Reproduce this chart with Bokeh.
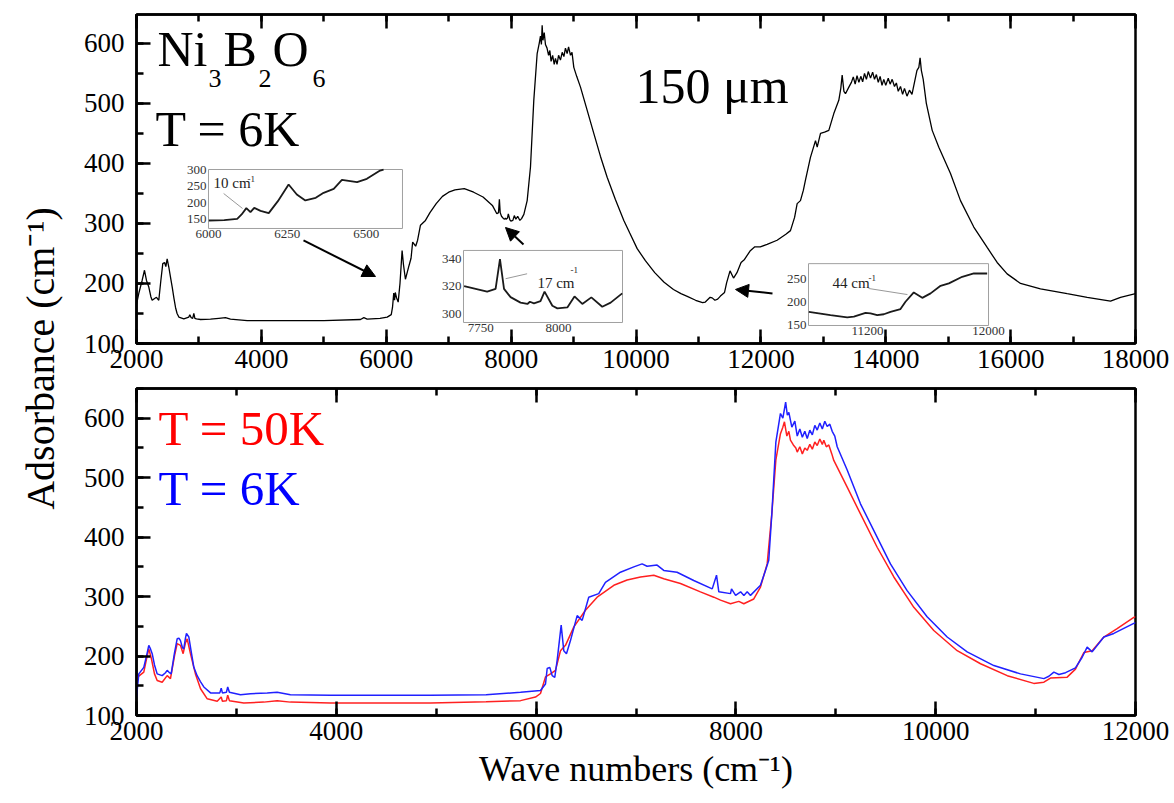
import math
from bokeh.plotting import figure
from bokeh.layouts import row, column
from bokeh.models import Range1d, SingleIntervalTicker, LinearAxis, Arrow, NormalHead
from bokeh.embed import file_html
from bokeh.resources import INLINE
from bokeh.core.properties import value

FONT = "Liberation Serif"

# ---------------- data: top panel, T = 6K, 150 um ----------------
top_x = [2000, 2040, 2090, 2128, 2160, 2197, 2230, 2251, 2290, 2320, 2357, 2390, 2421, 2450, 2470, 2491, 2518,
         2545, 2572, 2600, 2625, 2650, 2678, 2758, 2838, 2854, 2876, 2900, 2918, 2935, 2960, 3025, 3185, 3318,
         3425, 3505, 3773, 4574, 5000, 5588, 5641, 5695, 5900, 6015, 6080, 6100, 6120, 6133, 6145, 6165, 6191,
         6220, 6254, 6275, 6307, 6335, 6365, 6397, 6423, 6471, 6502, 6548, 6628, 6700, 6800, 6900, 7000, 7100,
         7250, 7400, 7550, 7700, 7771, 7798, 7812, 7825, 7846, 7878, 7900, 7908, 7921, 7942, 7955, 7980, 7996,
         8028, 8051, 8076, 8105, 8140, 8167, 8204, 8257, 8310, 8363, 8417, 8450, 8470, 8485, 8497, 8510, 8530,
         8550, 8575, 8600, 8620, 8640, 8665, 8690, 8710, 8735, 8760, 8790, 8818, 8845, 8870, 8897, 8920, 8951,
         8975, 9004, 9050, 9111, 9200, 9324, 9430, 9538, 9670, 9805, 9900, 10019, 10150, 10300, 10450, 10600,
         10720, 10812, 10955, 11066, 11110, 11187, 11220, 11264, 11308, 11352, 11418, 11451, 11506, 11562, 11617,
         11683, 11738, 11826, 11903, 11991, 12100, 12260, 12400, 12474, 12540, 12581, 12634, 12680, 12714, 12794,
         12875, 12902, 12955, 13020, 13088, 13168, 13248, 13280, 13302, 13330, 13355, 13409, 13450, 13480, 13510,
         13540, 13570, 13600, 13630, 13660, 13690, 13720, 13756, 13790, 13820, 13850, 13880, 13910, 13940, 13969,
         14000, 14040, 14070, 14103, 14140, 14170, 14200, 14236, 14270, 14300, 14340, 14380, 14420, 14460, 14500,
         14530, 14550, 14570, 14600, 14650, 14744, 14850, 15037, 15197, 15410, 15624, 15784, 15944, 16158, 16478,
         16905, 17226, 17600, 17760, 18000]
top_y = [165, 185, 205, 222, 205, 194, 178, 172, 175, 177, 172, 205, 233, 235, 228, 241, 227,
         210, 194, 175, 160, 150, 144, 141, 144, 148, 143, 142, 150, 142, 141, 140, 140.5, 142,
         143, 140.5, 138, 138, 138, 140, 143, 140.5, 142, 144, 148, 160, 184, 172, 185, 176, 169,
         200, 255, 232, 207, 218, 230, 242, 269, 262, 272, 297, 305, 318, 333, 345, 352, 356,
         358, 352, 344, 330, 316, 318, 340, 318, 312, 308, 307, 309, 307, 309, 316, 306, 304,
         305, 313, 307, 312, 305, 308, 315, 338, 394, 505, 583, 600, 612, 598, 630, 605, 618,
         598, 592, 580, 588, 570, 580, 565, 575, 565, 580, 572, 585, 578, 592, 583, 594, 580,
         585, 560, 545, 527, 495, 450, 412, 377, 340, 305, 284, 258, 238, 218, 202, 190,
         183, 179, 172, 168, 169, 177, 176, 172, 174, 179, 185, 201, 221, 209, 218,
         235, 240, 254, 261, 261, 265, 272, 282, 288, 310, 333, 338, 355, 372, 410,
         438, 427, 450, 452, 455, 483, 505, 525, 547, 520, 516, 527, 535, 544, 532,
         546, 535, 545, 536, 550, 540, 553, 542, 552, 540, 548, 535, 545, 530, 540,
         530, 542, 532, 540, 528, 534, 520, 528, 515, 525, 512, 522, 515, 535, 555,
         560, 576, 555, 540, 500, 455, 427, 383, 338, 294, 260, 235, 216, 200, 191,
         183, 177, 170.5, 177, 183]

# ---------------- data: bottom panel ----------------
b6_x = [2000, 2023, 2073, 2100, 2123, 2140, 2157, 2180, 2207, 2257, 2290, 2307, 2330, 2347, 2380, 2407, 2425,
        2440, 2460, 2473, 2490, 2500, 2524, 2550, 2574, 2607, 2640, 2674, 2741, 2834, 2848, 2860, 2900, 2913,
        2930, 3041, 3141, 3308, 3408, 3541, 3942, 4943, 5500, 5844, 6044, 6094, 6111, 6137, 6161, 6187, 6211,
        6251, 6277, 6304, 6344, 6411, 6461, 6527, 6627, 6694, 6844, 6978, 7061, 7111, 7211, 7278, 7411, 7578,
        7763, 7806, 7829, 7946, 7956, 7997, 8047, 8080, 8113, 8146, 8246, 8296, 8329, 8360, 8400, 8446, 8470,
        8498, 8515, 8530, 8560, 8590, 8614, 8640, 8665, 8690, 8714, 8740, 8765, 8790, 8814, 8840, 8865, 8890,
        8914, 8940, 8964, 8990, 9014, 9114, 9247, 9381, 9547, 9714, 9914, 10115, 10315, 10582, 10849, 11083,
        11133, 11183, 11233, 11300, 11399, 11466, 11516, 11566, 11683, 11783, 11983, 12000]
b6_y = [131, 170, 181, 200, 218, 212, 204, 185, 170, 167, 172, 176, 172, 170, 205, 229, 230,
        226, 214, 212, 230, 238, 232, 205, 181, 167, 157, 148, 138, 138, 146, 138, 139, 148,
        139, 135, 136.5, 138, 139, 135, 134, 134, 135, 139, 142, 153, 179, 181, 167, 164, 193,
        252, 209, 204, 226, 268, 260, 299, 305, 324, 341, 350, 355, 351, 353, 344, 341, 327,
        313, 336, 308, 305, 313, 302, 308, 302, 308, 302, 319, 344, 361, 440, 560, 608, 600,
        627, 605, 610, 585, 595, 570, 582, 568, 578, 566, 580, 572, 588, 580, 592, 582, 595,
        586, 590, 578, 570, 552, 513, 456, 411, 355, 310, 266, 232, 207, 184, 170, 162,
        166, 173, 169, 172, 180, 198, 215, 207, 232, 238, 255, 256]

b50_x = [2000, 2007, 2073, 2100, 2123, 2150, 2180, 2207, 2257, 2307, 2340, 2380, 2407, 2440, 2467, 2490, 2507,
         2540, 2590, 2641, 2708, 2808, 2848, 2860, 2900, 2913, 2930, 3074, 3274, 3408, 3541, 3942, 4943, 5500,
         5844, 5994, 6044, 6094, 6144, 6194, 6244, 6294, 6378, 6494, 6611, 6778, 6911, 7045, 7178, 7278, 7445,
         7645, 7779, 7846, 7946, 8029, 8079, 8179, 8246, 8313, 8360, 8400, 8446, 8470, 8486, 8510, 8530, 8546,
         8575, 8600, 8614, 8640, 8665, 8690, 8714, 8740, 8765, 8790, 8814, 8840, 8865, 8880, 8905, 8930, 8960,
         8980, 9114, 9247, 9414, 9581, 9781, 9981, 10215, 10449, 10716, 10982, 11083, 11149, 11316, 11399, 11483,
         11566, 11683, 11816, 11983, 12000]
b50_y = [150, 164, 173, 195, 212, 195, 170, 159, 156, 167, 162, 200, 221, 218, 204, 222, 229,
         204, 170, 145, 128, 124, 131, 124, 125, 134, 125, 121, 122.5, 125, 122.5, 121, 121, 123,
         125, 131, 137, 165, 170, 176, 209, 218, 249, 277, 299, 319, 328, 333, 336, 330, 322,
         308, 299, 294, 288, 292, 288, 296, 316, 355, 440, 530, 574, 585, 594, 570, 578, 563,
         555, 550, 543, 552, 540, 550, 546, 556, 548, 560, 554, 565, 556, 563, 552, 555, 540,
         529, 484, 439, 383, 333, 282, 243, 209, 187, 167, 154, 156, 163, 164.5, 178, 206,
         209, 232, 246, 265, 266]

# ---------------- data: insets ----------------
ins1_x = [6001, 6050, 6091, 6105, 6120, 6133, 6145, 6165, 6191, 6220, 6254, 6280, 6307, 6340, 6365, 6397, 6423,
          6471, 6502, 6544, 6555]
ins1_y = [147, 148, 152, 165, 184, 172, 185, 176, 169, 205, 255, 225, 207, 215, 230, 242, 269,
          262, 272, 297, 300]
ins1_xrange = [6000, 6615]
ins1_yrange = [123, 300]
ins1_xticks = [6000, 6250, 6500]
ins1_yticks = [150, 200, 250, 300]

ins2_x = [7697, 7771, 7798, 7812, 7825, 7846, 7878, 7900, 7908, 7921, 7942, 7955, 7980, 7996, 8028, 8051,
          8076, 8105, 8140, 8167, 8204]
ins2_y = [320, 316, 318, 339.6, 318, 312, 308, 307, 308.6, 307.4, 309, 316, 305.7, 303.8, 304.5, 312.5,
          307, 311.8, 305, 308, 314.7]
ins2_xrange = [7695, 8205]
ins2_yrange = [293.5, 346]
ins2_xticks = [7750, 8000]
ins2_yticks = [300, 320, 340]

ins3_x = [10812, 10955, 11066, 11110, 11187, 11220, 11264, 11308, 11352, 11418, 11451, 11506, 11562, 11617,
          11683, 11738, 11826, 11903, 11991]
ins3_y = [179, 172, 167.5, 169, 177, 176, 172, 174, 179, 185, 200.7, 220.6, 209, 218.5,
          234.7, 240, 254, 261, 261]
ins3_xrange = [10810, 12000]
ins3_yrange = [150, 282]
ins3_xticks = [11200, 12000]
ins3_yticks = [150, 200, 250]


def style_axis(ax, show_labels=True, standoff=6):
    ax.major_tick_in = 14
    ax.major_tick_out = 0
    ax.minor_tick_in = 7
    ax.minor_tick_out = 0
    ax.axis_line_width = 2.5
    ax.axis_line_color = "black"
    ax.major_tick_line_width = 2.5
    ax.minor_tick_line_width = 2.5
    ax.major_tick_line_color = "black"
    ax.minor_tick_line_color = "black"
    ax.major_label_text_font = FONT
    if show_labels:
        ax.major_label_text_color = "black"
        ax.major_label_text_font_size = "27px"
        ax.major_label_standoff = standoff
    else:
        ax.major_label_text_color = None
        ax.major_label_text_font_size = "1px"
        ax.major_label_standoff = 0


def add_axes(p, xint, yint, xlabel=None):
    xb = LinearAxis(ticker=SingleIntervalTicker(interval=xint, num_minor_ticks=2))
    style_axis(xb, True, 6)
    if xlabel:
        xb.axis_label = xlabel
        xb.axis_label_text_font = FONT
        xb.axis_label_text_font_size = "36px"
        xb.axis_label_text_font_style = "normal"
        xb.axis_label_text_color = "black"
        xb.axis_label_standoff = 6
    p.add_layout(xb, "below")
    xt = LinearAxis(ticker=SingleIntervalTicker(interval=xint, num_minor_ticks=2))
    style_axis(xt, False)
    p.add_layout(xt, "above")
    yl = LinearAxis(ticker=SingleIntervalTicker(interval=yint, num_minor_ticks=2))
    style_axis(yl, True, 12)
    p.add_layout(yl, "left")
    p.outline_line_color = "black"
    p.outline_line_width = 2.5
    p.outline_line_alpha = 1.0


def add_inset(p, xs, ys, xr, yr, xt, yt, xticks, yticks):
    sub = p.subplot(x_source=Range1d(xr[0], xr[1]), y_source=Range1d(yr[0], yr[1]),
                    x_target=Range1d(xt[0], xt[1]), y_target=Range1d(yt[0], yt[1]))
    sub.quad(left=[xr[0]], right=[xr[1]], bottom=[yr[0]], top=[yr[1]],
             fill_color="white", line_color="#a0a0a0", line_width=1)
    sub.line(xs, ys, line_color="#1a1a1a", line_width=1.8)
    sub.text(x=[xr[0]] * len(yticks), y=yticks, text=[str(v) for v in yticks],
             text_align="right", text_baseline="middle", x_offset=-2,
             text_font=value(FONT), text_font_size="13px", text_color="#333333")
    sub.text(x=xticks, y=[yr[0]] * len(xticks), text=[str(v) for v in xticks],
             text_align="center", text_baseline="top", y_offset=2,
             text_font=value(FONT), text_font_size="13px", text_color="#333333")
    return sub


def note(sub, x, y, main, sx, sy, px, py):
    sub.text(x=[x], y=[y], text=[main], text_align="left", text_baseline="alphabetic",
             text_font=value(FONT), text_font_size="15px", text_color="#222222")
    sub.text(x=[sx], y=[sy], text=["-1"], text_align="left", text_baseline="alphabetic",
             text_font=value(FONT), text_font_size="9px", text_color="#222222")
    sub.line(px, py, line_color="#999999", line_width=1)


def lab(p, x, y, s, size, color="black"):
    p.text(x=[x], y=[y], text=[s], text_font=value(FONT), text_font_size=size,
           text_color=color, text_align="left", text_baseline="alphabetic")


# ---------------- top figure ----------------
p1 = figure(width=1108, height=381, x_range=Range1d(2000, 18000), y_range=Range1d(100, 648),
            x_axis_type=None, y_axis_type=None, output_backend="svg", toolbar_location=None,
            min_border_left=70, min_border_right=39, min_border_top=14, min_border_bottom=38,
            background_fill_color="white", border_fill_color="white")
add_axes(p1, 2000, 100)
p1.line(top_x, top_y, line_color="black", line_width=1.3)

add_inset(p1, ins1_x, ins1_y, ins1_xrange, ins1_yrange, [3153, 6260], [291.6, 389.8],
          ins1_xticks, ins1_yticks)
s1 = p1.subplot(x_source=Range1d(*ins1_xrange), y_source=Range1d(*ins1_yrange),
                x_target=Range1d(3153, 6260), y_target=Range1d(291.6, 389.8))
note(s1, 6016, 259, "10 cm", 6124, 272, [6048, 6108], [228, 183])

add_inset(p1, ins2_x, ins2_y, ins2_xrange, ins2_yrange, [7237, 9784], [135, 255],
          ins2_xticks, ins2_yticks)
s2 = p1.subplot(x_source=Range1d(*ins2_xrange), y_source=Range1d(*ins2_yrange),
                x_target=Range1d(7237, 9784), y_target=Range1d(135, 255))
note(s2, 7932, 322, "17 cm", 8038, 332, [7830, 7899], [325.4, 329])

add_inset(p1, ins3_x, ins3_y, ins3_xrange, ins3_yrange, [12763, 15646], [130, 233],
          ins3_xticks, ins3_yticks)
s3 = p1.subplot(x_source=Range1d(*ins3_xrange), y_source=Range1d(*ins3_yrange),
                x_target=Range1d(12763, 15646), y_target=Range1d(130, 233))
note(s3, 10969, 240, "44 cm", 11207, 251, [11207, 11464], [229, 216])

for (xs, ys, xe, ye) in [(4675, 271.6, 5828, 211.6), (8198, 264.9, 7910, 293.2), (12186, 183.3, 11594, 190)]:
    p1.add_layout(Arrow(end=NormalHead(size=13, fill_color="black", line_color="black"),
                        x_start=xs, y_start=ys, x_end=xe, y_end=ye,
                        line_color="black", line_width=2))

lab(p1, 2336, 591, "Ni", "50px")
lab(p1, 3153, 542, "3", "26px")
lab(p1, 3393, 591, "B", "50px")
lab(p1, 3954, 542, "2", "26px")
lab(p1, 4178, 591, "O", "50px")
lab(p1, 4819, 542, "6", "26px")
lab(p1, 2304, 458, "T = 6K", "50px")
lab(p1, 9992, 529, "150 \u03bcm", "50px")

# ---------------- bottom figure ----------------
p2 = figure(width=1108, height=422, x_range=Range1d(2000, 12000), y_range=Range1d(100, 650),
            x_axis_type=None, y_axis_type=None, output_backend="svg", toolbar_location=None,
            min_border_left=70, min_border_right=39, min_border_top=7, min_border_bottom=88,
            background_fill_color="white", border_fill_color="white")
add_axes(p2, 2000, 100, xlabel="Wave numbers (cm\u207b\u00b9)")
p2.line(b50_x, b50_y, line_color="#ff2020", line_width=1.5)
p2.line(b6_x, b6_y, line_color="#2020ff", line_width=1.5)
lab(p2, 2220, 582, "T = 50K", "49px", "#ff0000")
lab(p2, 2220, 481, "T = 6K", "49px", "#0000ff")

# ---------------- shared y label ----------------
py = figure(width=66, height=803, x_range=Range1d(0, 66), y_range=Range1d(0, 803),
            x_axis_type=None, y_axis_type=None, output_backend="svg", toolbar_location=None,
            min_border=0, outline_line_color=None)
py.text(x=[40], y=[450], text=["Adsorbance  (cm\u207b\u00b9)"], angle=math.pi / 2,
        text_align="center", text_baseline="middle", text_font=value(FONT),
        text_font_size="40px", text_color="black")

layout = row(py, column(p1, p2))
open("out.html", "w").write(file_html(layout, INLINE))
